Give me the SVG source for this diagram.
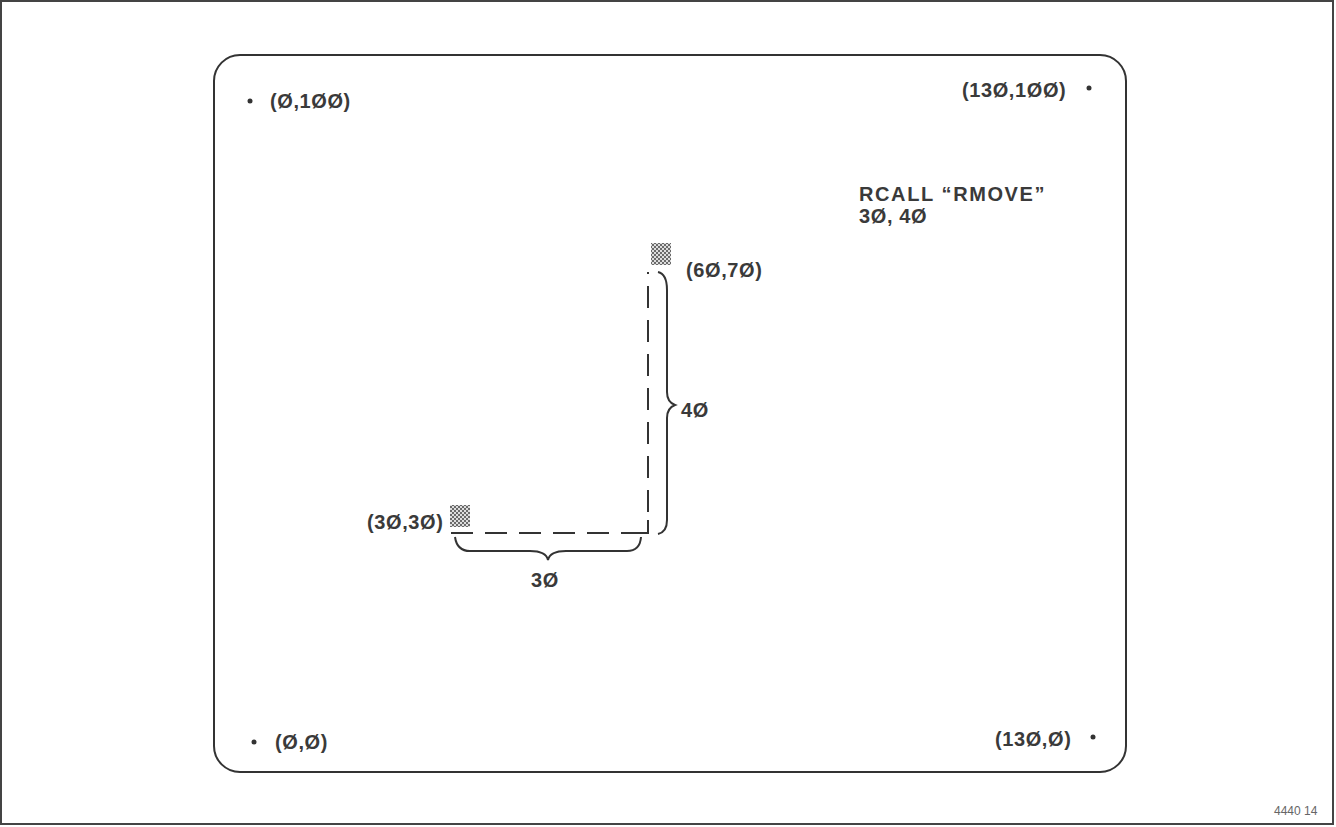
<svg xmlns="http://www.w3.org/2000/svg" width="1336" height="827" viewBox="0 0 1336 827">
<style>
.t{font-family:"Liberation Sans",Arial,sans-serif;font-weight:bold;font-size:20px;letter-spacing:0.6px;fill:#3a3a3a}
.ln{fill:none;stroke:#333;stroke-width:2}
.dash{fill:none;stroke:#333;stroke-width:2;stroke-dasharray:22,12}
.dot{fill:#333}
</style>
<defs>
<pattern id="stip" width="4" height="4" patternUnits="userSpaceOnUse">
<rect width="4" height="4" fill="#ddd"/>
<circle cx="1" cy="1" r="1" fill="#444"/>
<circle cx="3" cy="3" r="1" fill="#444"/>
</pattern>
</defs>
<rect x="1" y="1" width="1332" height="823" fill="#fff" stroke="#444" stroke-width="2"/>
<rect x="214" y="55" width="912" height="717" rx="26" ry="26" class="ln" stroke-width="2.5"/>
<g id="corner-tl"><circle class="dot" cx="250" cy="101" r="2.5"/><text class="t" x="270" y="108">(Ø,1ØØ)</text></g>
<g id="corner-tr"><circle class="dot" cx="1089" cy="88" r="2.5"/><text class="t" x="962" y="97">(13Ø,1ØØ)</text></g>
<g id="corner-bl"><circle class="dot" cx="254" cy="742" r="2.5"/><text class="t" x="275" y="749">(Ø,Ø)</text></g>
<g id="corner-br"><circle class="dot" cx="1093" cy="737" r="2.5"/><text class="t" x="995" y="746">(13Ø,Ø)</text></g>
<g id="command"><text class="t" x="859" y="201" style="letter-spacing:1.6px">RCALL “RMOVE”</text><text class="t" x="859" y="223">3Ø, 4Ø</text></g>
<g id="start"><rect x="450" y="505" width="20" height="22" fill="url(#stip)"/><text class="t" x="367" y="529">(3Ø,3Ø)</text></g>
<g id="end"><rect x="651" y="243" width="20" height="22" fill="url(#stip)"/><text class="t" x="686" y="277">(6Ø,7Ø)</text></g>
<g id="connectors">
<path class="dash" d="M451 533 H640"/>
<path class="ln" d="M640 533 H648 V520"/>
<path class="dash" d="M648 512 V272"/>
<path class="ln" d="M455 537 Q457 551 470 551 H530 Q546 551 548 560 Q550 551 566 551 H627 Q640 551 641 537"/>
<path class="ln" d="M658 272 Q667 274 667 290 V392 Q667 402 675 405 Q667 408 667 418 V520 Q667 532 658 534"/>
</g>
<g id="labels"><text class="t" x="531" y="587">3Ø</text><text class="t" x="681" y="417">4Ø</text></g>
<text x="1274" y="815" font-family="Liberation Sans,Arial,sans-serif" font-size="12" fill="#666">4440 14</text>
</svg>
